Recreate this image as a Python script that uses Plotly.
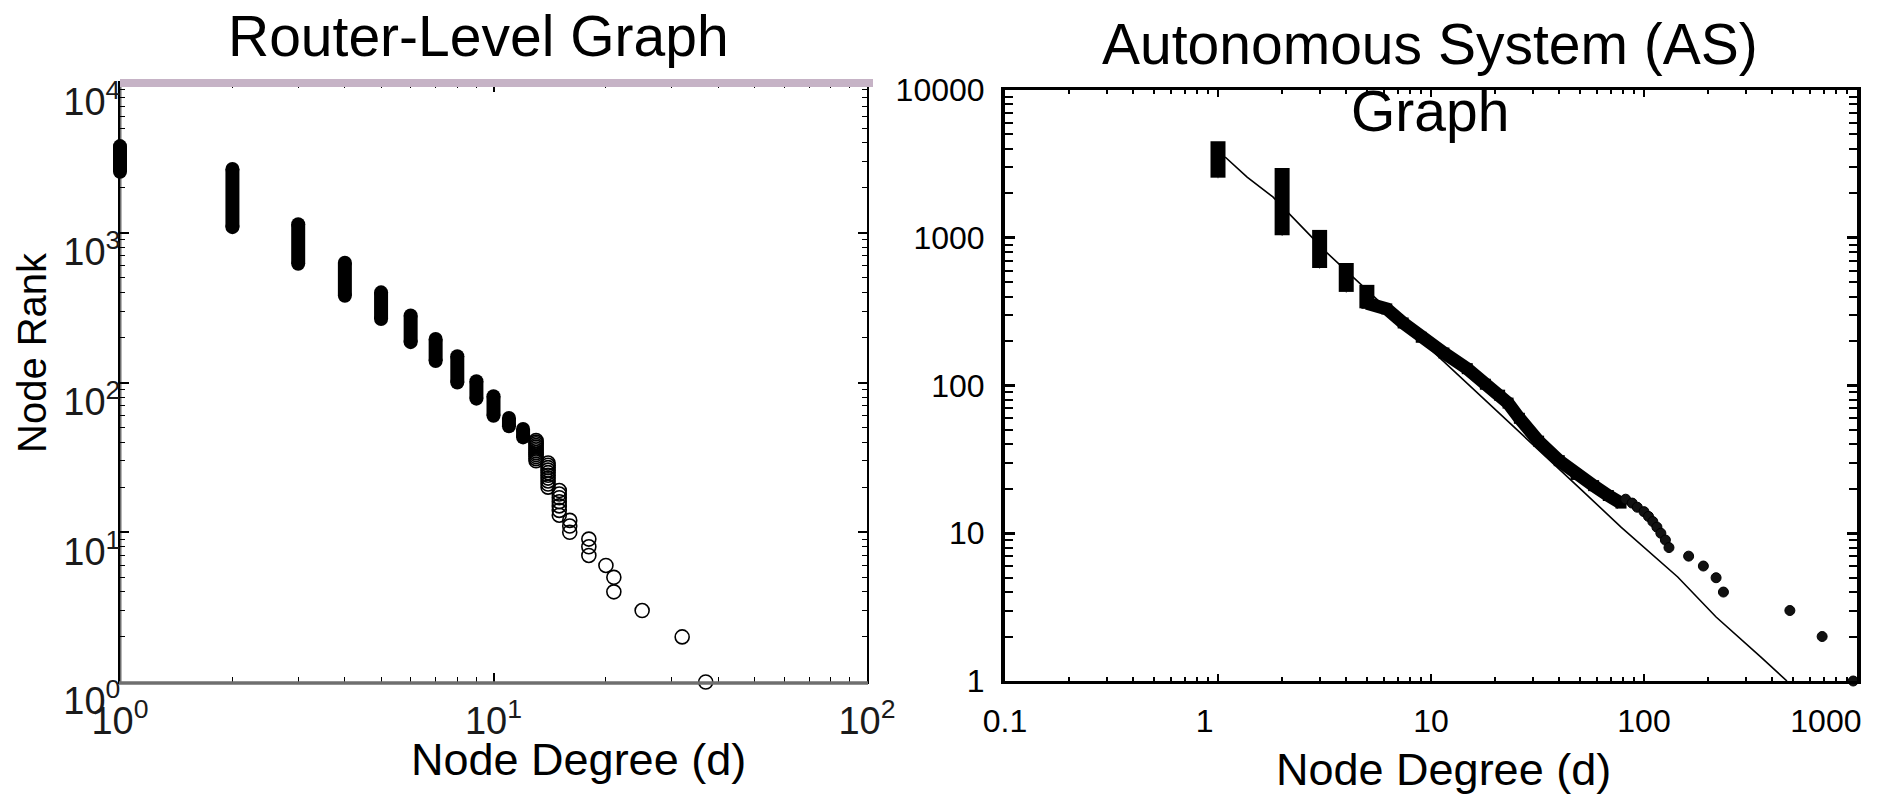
import plotly.graph_objects as go

# ---------------- data: Router-level graph (left) ----------------
# dense columns: degree, highest rank, lowest rank (many overlapping nodes)
router_dense_deg = [1, 2, 3, 4, 5, 6, 7, 8, 9, 10, 11, 12]
router_dense_rank_top = [3790, 2670, 1140, 630, 400, 280, 195, 150, 102, 81, 58, 49]
router_dense_rank_bot = [2550, 1090, 620, 380, 265, 186, 139, 100, 78, 60, 51, 43]

# individually visible nodes (open circles)
router_sparse_deg = ([13] * 12 + [14] * 10 + [15] * 7 + [16] * 3 + [18] * 3
                     + [20, 21, 21, 25, 32, 37])
router_sparse_rank = ([41, 40, 39, 38, 37, 36, 35, 34, 33, 32, 31, 30]
                      + [29, 28, 27, 26, 25, 24, 23, 22, 21, 20]
                      + [19, 18, 17, 16, 15, 14, 13]
                      + [12, 11, 10] + [9, 8, 7]
                      + [6, 5, 4, 3, 2, 1])

# ---------------- data: AS graph (right) ----------------
as_bar_deg = [1, 2, 3, 4, 5]
as_bar_rank_top = [4500, 2960, 1130, 675, 480]
as_bar_rank_bot = [2550, 1040, 624, 430, 333]

as_band_deg = [5.0, 6.2, 7.4, 9, 11.5, 14.8, 18, 21, 23, 26, 32, 40, 48, 58, 68, 78]
as_band_rank = [360, 330, 265, 212, 166, 130, 102, 86, 76, 60, 42, 31, 25, 21, 18, 16]

as_sparse_deg = [82, 88, 93, 100, 105, 110, 115, 120, 126, 131, 162, 190, 218, 236, 484, 686, 960]
as_sparse_rank = [17, 16, 15, 14, 13, 12, 11, 10, 9, 8, 7, 6, 5, 4, 3, 2, 1]

as_fit_deg = [1.08, 1.37, 1.81, 2.30, 3.25, 51, 78, 144, 218, 354, 469]
as_fit_rank = [3520, 2570, 1890, 1320, 790, 19.6, 11, 5.06, 2.71, 1.45, 1.0]

left_ticks = [1, 10, 100, 1000, 10000]
left_ticktext_y = ["10<sup>0</sup>", "10<sup>1</sup>", "10<sup>2</sup>", "10<sup>3</sup>", "10<sup>4</sup>"]
left_ticks_x = [1, 10, 100]
left_ticktext_x = ["10<sup>0</sup>", "10<sup>1</sup>", "10<sup>2</sup>"]
right_ticks_x = [0.1, 1, 10, 100, 1000]
right_ticktext_x = ["0.1", "1\u00a0\u00a0\u00a0", "10", "100", "1000\u00a0\u00a0\u00a0\u00a0\u00a0\u00a0\u00a0"]
right_ticks_y = [1, 10, 100, 1000, 10000]
right_ticktext_y = ["1", "10", "100", "1000", "10000"]

W, H = 1881, 795
FONT = "Liberation Sans, Arial, Helvetica, sans-serif"

# pixel frame of the two panels
L_X0, L_X1, L_Y0, L_Y1 = 120, 867, 83, 682
L_PAD = 14  # hidden helper axes extend left so the degree-1 column is not clipped
R_X0, R_X1, R_Y0, R_Y1 = 1005, 1857, 90, 681


def fx(px):
    return px / W


def fy(py):
    return 1 - py / H


def minor_vals(lo_exp, hi_exp):
    vals = []
    for e in range(lo_exp, hi_exp):
        for d in range(2, 10):
            vals.append(d * 10 ** e)
    return vals


left_x_start = -L_PAD * 2.0 / (L_X1 - L_X0)

fig = go.Figure()

# left: dense columns drawn as thick error bars from lowest to highest rank (helper axes x3/y3)
fig.add_trace(go.Scatter(
    x=router_dense_deg, y=router_dense_rank_bot, mode="markers", xaxis="x3", yaxis="y3",
    marker=dict(symbol="circle", size=14, color="black"),
    error_y=dict(type="data", symmetric=False,
                 array=[t - b for t, b in zip(router_dense_rank_top, router_dense_rank_bot)],
                 arrayminus=[0] * len(router_dense_deg),
                 thickness=14, width=0, color="black"),
    cliponaxis=False, showlegend=False, hoverinfo="skip"))
fig.add_trace(go.Scatter(
    x=router_dense_deg, y=router_dense_rank_top, mode="markers", xaxis="x3", yaxis="y3",
    marker=dict(symbol="circle", size=14, color="black"),
    cliponaxis=False, showlegend=False, hoverinfo="skip"))
fig.add_trace(go.Scatter(x=router_sparse_deg, y=router_sparse_rank, mode="markers",
                         xaxis="x", yaxis="y",
                         marker=dict(symbol="circle-open", size=14, color="black",
                                     line=dict(width=1.6, color="black")),
                         cliponaxis=False, showlegend=False))

# right: fit line
fig.add_trace(go.Scatter(x=as_fit_deg, y=as_fit_rank, mode="lines", xaxis="x2", yaxis="y2",
                         line=dict(color="black", width=1.6),
                         cliponaxis=False, showlegend=False))
# right: bars at low degree
fig.add_trace(go.Scatter(
    x=as_bar_deg, y=as_bar_rank_bot, mode="markers", xaxis="x2", yaxis="y2",
    marker=dict(size=1, color="black"),
    error_y=dict(type="data", symmetric=False,
                 array=[t - b for t, b in zip(as_bar_rank_top, as_bar_rank_bot)],
                 arrayminus=[0] * len(as_bar_deg),
                 thickness=15, width=0, color="black"),
    cliponaxis=False, showlegend=False, hoverinfo="skip"))
# right: band
fig.add_trace(go.Scatter(x=as_band_deg, y=as_band_rank, mode="lines+markers",
                         xaxis="x2", yaxis="y2",
                         line=dict(color="black", width=13),
                         marker=dict(symbol="square", size=11, color="black"),
                         cliponaxis=False, showlegend=False))
fig.add_trace(go.Scatter(x=as_sparse_deg, y=as_sparse_rank, mode="markers",
                         xaxis="x2", yaxis="y2",
                         marker=dict(symbol="circle", size=10, color="#111111",
                                     line=dict(width=1, color="black")),
                         cliponaxis=False, showlegend=False))

common_tick_font = dict(family=FONT, size=38, color="#1a1a1a")

fig.update_layout(
    width=W, height=H,
    margin=dict(l=0, r=0, t=0, b=0, autoexpand=False),
    paper_bgcolor="white", plot_bgcolor="rgba(0,0,0,0)",
    showlegend=False,
    xaxis=dict(type="log", domain=[fx(L_X0), fx(L_X1)], range=[0, 2], anchor="y",
               automargin=False, ticklabeloverflow="allow",
               showgrid=False, zeroline=False, showline=True, linecolor="black", linewidth=2,
               mirror="allticks", ticks="inside", ticklen=9, tickwidth=1.5, tickcolor="black",
               tickmode="array", tickvals=left_ticks_x, ticktext=left_ticktext_x,
               tickfont=common_tick_font, ticklabelstandoff=4,
               minor=dict(tickmode="array", tickvals=minor_vals(0, 2), ticks="inside",
                          ticklen=5, tickwidth=1.2, tickcolor="black", showgrid=False)),
    yaxis=dict(type="log", domain=[fy(L_Y1), fy(L_Y0)], range=[0, 4], anchor="x",
               automargin=False, ticklabeloverflow="allow",
               showgrid=False, zeroline=False, showline=True, linecolor="black", linewidth=2,
               mirror="allticks", ticks="inside", ticklen=9, tickwidth=1.5, tickcolor="black",
               tickmode="array", tickvals=left_ticks, ticktext=left_ticktext_y,
               tickfont=common_tick_font, ticklabelshift=19, ticklabelstandoff=-10,
               minor=dict(tickmode="array", tickvals=minor_vals(0, 4), ticks="inside",
                          ticklen=5, tickwidth=1.2, tickcolor="black", showgrid=False)),
    xaxis3=dict(type="log", domain=[fx(L_X0 - L_PAD), fx(L_X1)], range=[left_x_start, 2],
                anchor="y3", visible=False, automargin=False),
    yaxis3=dict(type="log", domain=[fy(L_Y1), fy(L_Y0)], range=[0, 4],
                anchor="x3", visible=False, automargin=False),
    xaxis2=dict(type="log", domain=[fx(R_X0), fx(R_X1)], range=[-1, 3], anchor="y2",
                automargin=False, ticklabeloverflow="allow",
                showgrid=False, zeroline=False, showline=True, linecolor="black", linewidth=2.5,
                mirror="allticks", ticks="inside", ticklen=7, tickwidth=2, tickcolor="black",
                tickmode="array", tickvals=right_ticks_x, ticktext=right_ticktext_x,
                tickfont=dict(family=FONT, size=32, color="black"), ticklabelstandoff=10,
                minor=dict(tickmode="array", tickvals=minor_vals(-1, 3), ticks="inside",
                           ticklen=4, tickwidth=1.5, tickcolor="black", showgrid=False)),
    yaxis2=dict(type="log", domain=[fy(R_Y1), fy(R_Y0)], range=[0, 4], anchor="x2",
                automargin=False, ticklabeloverflow="allow",
                showgrid=False, zeroline=False, showline=True, linecolor="black", linewidth=4,
                mirror="allticks", ticks="inside", ticklen=10, tickwidth=2.5, tickcolor="black",
                tickmode="array", tickvals=right_ticks_y, ticktext=right_ticktext_y,
                tickfont=dict(family=FONT, size=32, color="black"), ticklabelstandoff=10,
                minor=dict(tickmode="array", tickvals=minor_vals(0, 4), ticks="inside",
                           ticklen=8, tickwidth=1.5, tickcolor="black", showgrid=False)),
)

shapes = [
    # lavender top bar of left plot
    dict(type="rect", xref="paper", yref="paper", x0=fx(L_X0), x1=fx(873), y0=fy(87), y1=fy(79),
         fillcolor="#c6b3c6", line=dict(width=0), layer="above"),
    # gray left & bottom spines of left plot
    dict(type="line", xref="paper", yref="paper", x0=fx(L_X0), x1=fx(L_X0), y0=fy(684), y1=fy(85),
         line=dict(color="#6f6f6f", width=3), layer="below"),
    dict(type="line", xref="paper", yref="paper", x0=fx(L_X0 - 1), x1=fx(L_X1 + 1), y0=fy(683), y1=fy(683),
         line=dict(color="#6f6f6f", width=3.5), layer="above"),
]
fig.update_layout(shapes=shapes)

annos = [
    dict(text="Router-Level Graph", x=fx(478), y=fy(36), xref="paper", yref="paper",
         showarrow=False, xanchor="center", yanchor="middle",
         font=dict(family=FONT, size=57, color="black")),
    dict(text="Autonomous System (AS)", x=fx(1430), y=fy(44), xref="paper", yref="paper",
         showarrow=False, xanchor="center", yanchor="middle",
         font=dict(family=FONT, size=57, color="black")),
    dict(text="Graph", x=fx(1430), y=fy(111), xref="paper", yref="paper",
         showarrow=False, xanchor="center", yanchor="middle",
         font=dict(family=FONT, size=57, color="black")),
    dict(text="Node Rank", x=fx(32), y=fy(353), xref="paper", yref="paper",
         showarrow=False, xanchor="center", yanchor="middle", textangle=-90,
         font=dict(family=FONT, size=40, color="black")),
    dict(text="Node Degree (d)", x=fx(578), y=fy(759), xref="paper", yref="paper",
         showarrow=False, xanchor="center", yanchor="middle",
         font=dict(family=FONT, size=45, color="black")),
    dict(text="Node Degree (d)", x=fx(1443), y=fy(769), xref="paper", yref="paper",
         showarrow=False, xanchor="center", yanchor="middle",
         font=dict(family=FONT, size=45, color="black")),
]
fig.update_layout(annotations=annos)

fig.write_html("out.html")
